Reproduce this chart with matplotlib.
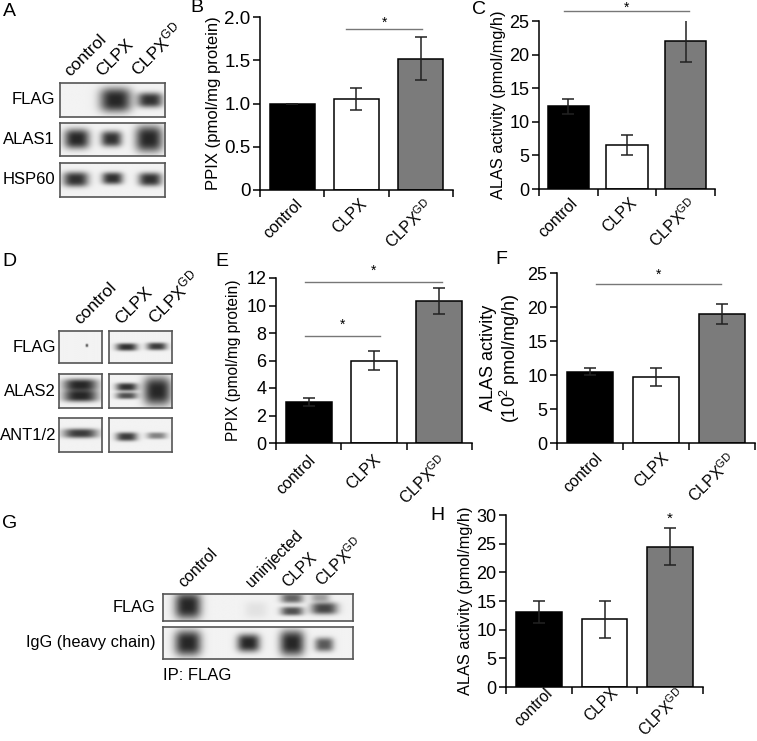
import numpy as np
import matplotlib
matplotlib.use('Agg')
import matplotlib.pyplot as plt
import matplotlib.transforms as mtransforms

plt.rcParams['font.family'] = ['Liberation Sans', 'DejaVu Sans']

W, H = 757, 741

# ---- bar chart data ----
groups = ['control', 'CLPX', r'CLPX$\mathregular{^{GD}}$']
bar_colors = ['black', 'white', '#7b7b7b']

b_vals = [1.0, 1.05, 1.52]
b_errs = [0.0, 0.125, 0.25]
c_vals = [12.3, 6.5, 22.0]
c_errs = [1.1, 1.5, 3.1]
e_vals = [3.0, 6.0, 10.35]
e_errs = [0.28, 0.7, 0.95]
f_vals = [10.5, 9.7, 19.0]
f_errs = [0.5, 1.3, 1.45]
h_vals = [13.1, 11.8, 24.5]
h_errs = [1.9, 3.2, 3.2]

# ---- blot data: (lane x, half width, y, half height, intensity) in box fractions ----
a_lanes = ['control', 'CLPX', r'CLPX$\mathregular{^{GD}}$']
a_rows = ['FLAG', 'ALAS1', 'HSP60']
a_bands = [
    [(0.53, 0.15, 0.50, 0.36, 1.0), (0.86, 0.12, 0.50, 0.22, 0.95)],
    [(0.16, 0.12, 0.52, 0.30, 1.0), (0.49, 0.10, 0.52, 0.24, 0.95), (0.85, 0.13, 0.52, 0.40, 1.0)],
    [(0.15, 0.12, 0.52, 0.22, 0.95), (0.50, 0.10, 0.55, 0.18, 0.95), (0.86, 0.11, 0.52, 0.20, 0.95)],
]
d_rows = ['FLAG', 'ALAS2', 'ANT1/2']
d_left_bands = [
    [(0.65, 0.03, 0.55, 0.05, 0.8)],
    [(0.50, 0.40, 0.68, 0.18, 1.0), (0.50, 0.40, 0.35, 0.17, 1.0)],
    [(0.50, 0.40, 0.55, 0.14, 0.9)],
]
d_right_bands = [
    [(0.28, 0.17, 0.50, 0.12, 0.95), (0.76, 0.16, 0.52, 0.12, 0.9)],
    [(0.28, 0.17, 0.62, 0.12, 0.95), (0.28, 0.17, 0.36, 0.10, 0.8), (0.77, 0.22, 0.50, 0.42, 1.0)],
    [(0.28, 0.17, 0.45, 0.13, 0.9), (0.76, 0.16, 0.48, 0.10, 0.55)],
]
g_lanes = ['control', 'uninjected', 'CLPX', r'CLPX$\mathregular{^{GD}}$']
g_rows = ['FLAG', 'IgG (heavy chain)']
g_bands = [
    [(0.13, 0.07, 0.55, 0.48, 1.0), (0.49, 0.06, 0.40, 0.30, 0.08),
     (0.68, 0.06, 0.82, 0.18, 0.7), (0.68, 0.06, 0.35, 0.16, 0.8),
     (0.85, 0.07, 0.45, 0.22, 0.85), (0.83, 0.05, 0.85, 0.15, 0.4)],
    [(0.13, 0.07, 0.50, 0.40, 1.0), (0.45, 0.06, 0.50, 0.28, 1.0),
     (0.68, 0.065, 0.50, 0.40, 1.0), (0.85, 0.05, 0.45, 0.22, 0.75)],
]


def ax_px(l, t, r, b):
    return fig.add_axes([l / W, 1 - b / H, (r - l) / W, (b - t) / H])


def blot(l, t, r, b, bands):
    ax = ax_px(l, t, r, b)
    nx, ny = 240, 80
    xx, yy = np.meshgrid(np.linspace(0, 1, nx), np.linspace(0, 1, ny))
    dark = np.zeros_like(xx)
    for (x0, w, y0, h, k) in bands:
        dark += k * np.exp(-(np.abs((xx - x0) / w) ** 3 + np.abs((yy - y0) / h) ** 3))
    dark = np.clip(dark, 0, 1)
    img = 0.95 - dark * 0.8
    ax.imshow(img, cmap='gray', vmin=0, vmax=1, extent=[0, 1, 0, 1],
              origin='lower', aspect='auto', interpolation='bilinear')
    ax.set_xticks([])
    ax.set_yticks([])
    for s in ax.spines.values():
        s.set_color('#555555')
        s.set_linewidth(1.2)
    return ax


def bar_panel(l, t, r, b, vals, errs, ymax, yticks, ylabel, ylfs, lpad,
              xdx, xdy, tfs=13, xfs=11.5):
    ax = ax_px(l, t, r, b)
    x = np.arange(3)
    ax.bar(x, vals, width=0.7, color=bar_colors, edgecolor='black', linewidth=1.1, zorder=2)
    ax.errorbar(x, vals, yerr=errs, fmt='none', ecolor='#222222', elinewidth=1.1,
                capsize=4, capthick=1.1, zorder=3)
    ax.set_xlim(-0.5, 2.5)
    ax.set_ylim(0, ymax)
    ax.spines['top'].set_visible(False)
    ax.spines['right'].set_visible(False)
    ax.spines['left'].set_linewidth(1.1)
    ax.spines['bottom'].set_linewidth(1.1)
    ax.set_xticks([-0.5, 0.5, 1.5, 2.5])
    ax.set_xticklabels([])
    ax.tick_params(axis='x', length=5, width=1.1, direction='out')
    ax.set_yticks(yticks)
    if ymax < 3:
        ax.set_yticklabels(['0' if v == 0 else '%.1f' % v for v in yticks])
    else:
        ax.set_yticklabels(['%d' % v for v in yticks])
    ax.tick_params(axis='y', length=5, width=1.1, labelsize=tfs, pad=2)
    ax.set_ylabel(ylabel, fontsize=ylfs, labelpad=lpad, linespacing=1.0)
    off = mtransforms.ScaledTranslation(xdx / 100, xdy / 100, fig.dpi_scale_trans)
    trans = mtransforms.blended_transform_factory(ax.transData, ax.transAxes) + off
    for i, g in enumerate(groups):
        ax.text(i, 0, g, transform=trans, rotation=45, ha='right', va='top',
                rotation_mode='anchor', fontsize=xfs)
    return ax


def sig(ax, x0, x1, y, ystar):
    ax.plot([x0, x1], [y, y], color='#777777', lw=1, clip_on=False)
    ax.text((x0 + x1) / 2, ystar, '*', ha='center', va='center', fontsize=10, clip_on=False)


fig = plt.figure(figsize=(W / 100, H / 100), dpi=100)

# ---------------- panel A ----------------
a_boxes = [(83, 117), (123, 156), (163, 197)]
for name, (t, b), bands in zip(a_rows, a_boxes, a_bands):
    blot(60, t, 165, b, bands)
    fig.text(55 / W, 1 - (t + b) / 2 / H, name, ha='right', va='center', fontsize=12)
for name, x in zip(a_lanes, [72, 104, 140]):
    fig.text(x / W, 1 - 79 / H, name, rotation=45, ha='left', va='bottom',
             rotation_mode='anchor', fontsize=12.5)

# ---------------- panel D ----------------
d_boxes = [(331, 363), (374, 408), (418, 452)]
for name, (t, b), lb, rb in zip(d_rows, d_boxes, d_left_bands, d_right_bands):
    blot(59, t, 102, b, lb)
    blot(109, t, 172, b, rb)
    fig.text(56 / W, 1 - (t + b) / 2 / H, name, ha='right', va='center', fontsize=12)
for name, x in zip(a_lanes, [82, 123, 157]):
    fig.text(x / W, 1 - 327 / H, name, rotation=45, ha='left', va='bottom',
             rotation_mode='anchor', fontsize=12.5)

# ---------------- panel G ----------------
g_boxes = [(594, 621), (627, 659)]
for name, (t, b), bands in zip(g_rows, g_boxes, g_bands):
    blot(163, t, 353, b, bands)
    fig.text(155 / W, 1 - (t + b) / 2 / H, name, ha='right', va='center', fontsize=11.8)
for name, x in zip(g_lanes, [186, 254, 290, 325]):
    fig.text(x / W, 1 - 590 / H, name, rotation=45, ha='left', va='bottom',
             rotation_mode='anchor', fontsize=11.5)
fig.text(163 / W, 1 - 675 / H, 'IP: FLAG', ha='left', va='center', fontsize=12)

# ---------------- bar panels ----------------
ax_b = bar_panel(260, 17, 453, 190, b_vals, b_errs, 2.0, [0, 0.5, 1.0, 1.5, 2.0],
                 'PPIX (pmol/mg protein)', 12, 2, 3, -6, tfs=13.5)
sig(ax_b, 0.84, 2.02, 1.86, 1.93)

ax_c = bar_panel(539, 21, 715, 189, c_vals, c_errs, 25, [0, 5, 10, 15, 20, 25],
                 'ALAS activity (pmol/mg/h)', 11.8, 2, 2, -6)
sig(ax_c, -0.07, 2.06, 26.5, 27.0)

ax_e = bar_panel(276, 278, 472, 443, e_vals, e_errs, 12, [0, 2, 4, 6, 8, 10, 12],
                 'PPIX (pmol/mg protein)', 11.2, 4, -1, -9)
sig(ax_e, -0.06, 1.09, 7.8, 8.6)
sig(ax_e, -0.05, 2.04, 11.7, 12.5)

ax_f = bar_panel(557, 273, 755, 443, f_vals, f_errs, 25, [0, 5, 10, 15, 20, 25],
                 'ALAS activity\n(10$\\mathregular{^2}$ pmol/mg/h)', 13, 4, 5, -7)
sig(ax_f, 0.09, 1.98, 23.4, 24.7)

ax_h = bar_panel(506, 515, 703, 687, h_vals, h_errs, 30, [0, 5, 10, 15, 20, 25, 30],
                 'ALAS activity (pmol/mg/h)', 11.8, 2, 6, 2, xfs=11.2)
ax_h.text(2, 29.3, '*', ha='center', va='center', fontsize=11, clip_on=False)

# ---------------- panel letters ----------------
for letter, x, y in [('A', 3, 11), ('B', 190, 8), ('C', 472, 10), ('D', 2, 262),
                     ('E', 215, 262), ('F', 495, 260), ('G', 2, 523), ('H', 430, 516)]:
    fig.text(x / W, 1 - y / H, letter, ha='left', va='center', fontsize=14)

fig.savefig('out.png', dpi=100)
